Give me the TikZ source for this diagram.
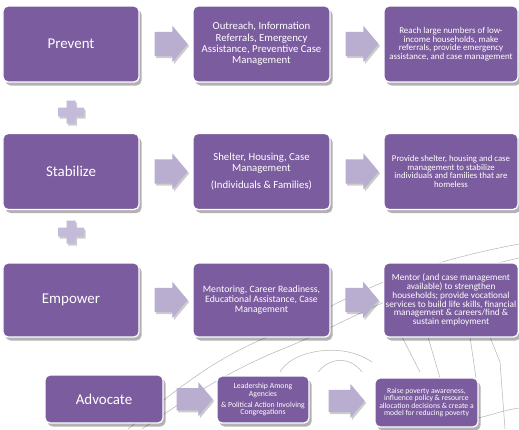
\documentclass[tikz,border=0pt]{standalone}
\usepackage{fontspec}
\setmainfont{Carlito}
\usetikzlibrary{shapes.arrows,shadows,calc}

\definecolor{stagepurple}{HTML}{7B5C9E}
\definecolor{arrowlilac}{HTML}{B9AECF}
\definecolor{pluslilac}{HTML}{C4BAD9}
\definecolor{sketchgray}{HTML}{B4B4B4}

\tikzset{
  plusmark/.pic={
    \fill[pluslilac, drop shadow={shadow xshift=1.5bp, shadow yshift=-2bp, opacity=0.2, fill=black}]
      (-4.5,-11.5) -- (4.5,-11.5) -- (4.5,-4.5) -- (13,-4.5) -- (13,4.5) -- (4.5,4.5)
      -- (4.5,11.5) -- (-4.5,11.5) -- (-4.5,4.5) -- (-13,4.5) -- (-13,-4.5) -- (-4.5,-4.5) -- cycle;
  }
}

\begin{document}
\begin{tikzpicture}[x=1bp, y=-1bp,
    stagebox/.style={draw=white, line width=1.3bp, fill=stagepurple, rounded corners=5bp,
      text=white, align=center, inner sep=2bp,
      drop shadow={shadow xshift=2.5bp, shadow yshift=-3.5bp, opacity=0.3, fill=black}},
    headbox/.style={stagebox, minimum width=136bp, minimum height=76bp, font=\fontsize{15}{18}\selectfont},
    actbox/.style={stagebox, minimum width=137bp, minimum height=76bp, font=\fontsize{10.8}{11.3}\selectfont},
    goalbox/.style={stagebox, minimum width=134bp, minimum height=76bp, font=\fontsize{9}{8.7}\selectfont},
    flowarrow/.style={single arrow, fill=arrowlilac, inner xsep=0pt, inner ysep=12bp,
      minimum height=33bp, single arrow head extend=6bp, single arrow tip angle=100,
      drop shadow={shadow xshift=1.5bp, shadow yshift=-2bp, opacity=0.2, fill=black}},
    sketch/.style={sketchgray, line width=0.5bp}]

    \fill[white] (0,0) rectangle (519,429);
    \useasboundingbox (0,0) rectangle (519,429);

    % faint line art behind the lower rows
    \draw[sketch] (128,429) .. controls (170,395) and (210,360) .. (270,336)
      .. controls (330,310) and (380,270) .. (519,244);
    \draw[sketch] (142,429) .. controls (185,400) and (225,372) .. (285,348)
      .. controls (345,324) and (400,285) .. (519,258);
    \draw[sketch] (280,372) .. controls (290,352) and (340,340) .. (372,362);
    \draw[sketch] (318,372) .. controls (330,357) and (350,356) .. (362,372);
    \draw[sketch] (402,337) -- (420,372);
    \draw[sketch] (428,337) -- (440,378);
    \draw[sketch] (470,337) -- (476,378);
    \draw[sketch] (490,337) -- (500,362) -- (505,429);
    \draw[sketch] (478,418) .. controls (495,414) and (505,410) .. (519,408);

    % Prevent
    \node[headbox] (prevent) at (71,44) {Prevent};
    \node[actbox] (preventact) at (261.5,44) {Outreach, Information\\Referrals, Emergency\\Assistance, Preventive Case\\Management};
    \node[goalbox] (preventgoal) at (451,44) {Reach large numbers of low-\\income households, make\\referrals, provide emergency\\assistance, and case management};

    % Stabilize
    \node[headbox] (stabilize) at (71,171.5) {Stabilize};
    \node[actbox] (stabilizeact) at (261.5,171.5) {Shelter, Housing, Case\\Management\\[5bp](Individuals \& Families)};
    \node[goalbox, font=\fontsize{8.8}{8.8}\selectfont] (stabilizegoal) at (451,171.5) {Provide shelter, housing and case\\management to stabilize\\individuals and families that are\\homeless};

    % Empower
    \node[headbox, minimum height=74bp] (empower) at (71,300) {Empower};
    \node[actbox, minimum height=74bp, font=\fontsize{9.8}{10.2}\selectfont] (empoweract) at (261.5,300) {Mentoring, Career Readiness,\\Educational Assistance, Case\\Management};
    \node[goalbox, minimum height=74bp, font=\fontsize{9.3}{8.9}\selectfont] (empowergoal) at (451,300) {Mentor (and case management\\available) to strengthen\\households; provide vocational\\services to build life skills, financial\\management \& careers/find \&\\sustain employment};

    % Advocate
    \node[headbox, minimum width=118bp, minimum height=48bp] (advocate) at (104,399) {Advocate};
    \node[stagebox, minimum width=92bp, minimum height=47bp, font=\fontsize{7.8}{8}\selectfont] (advocateact) at (263,399.5) {Leadership Among\\Agencies\\[3bp]\& Political Action Involving\\Congregations};
    \node[stagebox, minimum width=103bp, minimum height=49bp, font=\fontsize{7.7}{7.6}\selectfont] (advocategoal) at (426.5,402.5) {Raise poverty awareness,\\influence policy \& resource\\allocation decisions \& create a\\model for reducing poverty};

    % Arrows
    \node[flowarrow] (pa1) at ($(prevent.east)!0.5!(preventact.west)$) {};
    \node[flowarrow] (pa2) at ($(preventact.east)!0.5!(preventgoal.west)$) {};
    \node[flowarrow] (sa1) at ($(stabilize.east)!0.5!(stabilizeact.west)$) {};
    \node[flowarrow] (sa2) at ($(stabilizeact.east)!0.5!(stabilizegoal.west)$) {};
    \node[flowarrow] (ea1) at ($(empower.east)!0.5!(empoweract.west)$) {};
    \node[flowarrow] (ea2) at ($(empoweract.east)!0.5!(empowergoal.west)$) {};
    \node[flowarrow, minimum height=36bp, inner ysep=11bp] (aa1) at ($(advocate.east)!0.5!(advocateact.west)$) {};
    \node[flowarrow, minimum height=36bp, inner ysep=11bp] (aa2) at ($(advocateact.east)!0.5!(advocategoal.west)$) {};

    % Plus signs between the rows
    \pic at (71,112) {plusmark};
    \pic at (71,232) {plusmark};
\end{tikzpicture}
\end{document}
